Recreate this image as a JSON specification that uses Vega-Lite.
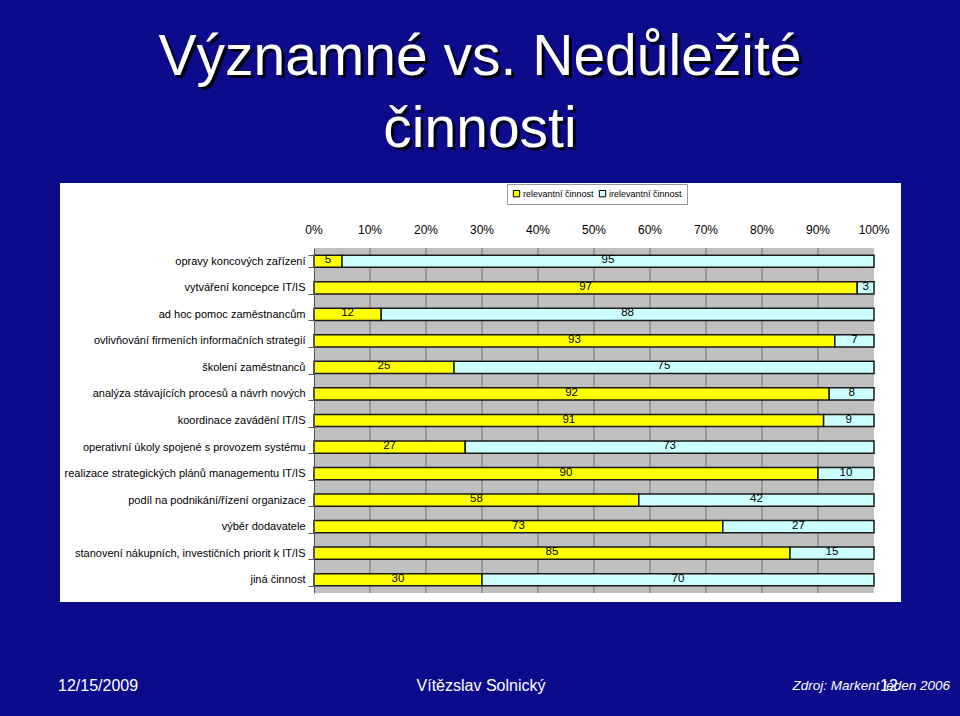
{
  "$schema": "https://vega.github.io/schema/vega-lite/v6.json",
  "width": 560,
  "height": 345,
  "autosize": {"type": "none"},
  "padding": {"left": 314, "top": 248, "right": 86, "bottom": 123},
  "background": "#0b0b8c",
  "config": {"view": {"stroke": null}, "font": "Liberation Sans"},
  "data": {"values": [
    {"kategorie": "opravy koncových zařízení", "relevantní činnost": 5, "irelevantní činnost": 95},
    {"kategorie": "vytváření koncepce IT/IS", "relevantní činnost": 97, "irelevantní činnost": 3},
    {"kategorie": "ad hoc pomoc zaměstnancům", "relevantní činnost": 12, "irelevantní činnost": 88},
    {"kategorie": "ovlivňování firmeních informačních strategií", "relevantní činnost": 93, "irelevantní činnost": 7},
    {"kategorie": "školení zaměstnanců", "relevantní činnost": 25, "irelevantní činnost": 75},
    {"kategorie": "analýza stávajících procesů a návrh nových", "relevantní činnost": 92, "irelevantní činnost": 8},
    {"kategorie": "koordinace zavádění IT/IS", "relevantní činnost": 91, "irelevantní činnost": 9},
    {"kategorie": "operativní úkoly spojené s provozem systému", "relevantní činnost": 27, "irelevantní činnost": 73},
    {"kategorie": "realizace strategických plánů managementu IT/IS", "relevantní činnost": 90, "irelevantní činnost": 10},
    {"kategorie": "podíl na podnikání/řízení organizace", "relevantní činnost": 58, "irelevantní činnost": 42},
    {"kategorie": "výběr dodavatele", "relevantní činnost": 73, "irelevantní činnost": 27},
    {"kategorie": "stanovení nákupních, investičních priorit k IT/IS", "relevantní činnost": 85, "irelevantní činnost": 15},
    {"kategorie": "jiná činnost", "relevantní činnost": 30, "irelevantní činnost": 70}
  ]},
  "resolve": {"scale": {"y": "independent"}},
  "layer": [
    {
      "data": {"values": [{}]},
      "mark": {"type": "rect", "fill": "#ffffff"},
      "encoding": {
        "x": {"datum": -45.36, "type": "quantitative", "scale": {"domain": [0, 100], "nice": false, "zero": false}, "axis": null},
        "x2": {"datum": 104.82},
        "y": {"datum": -0.0261, "type": "quantitative", "scale": {"domain": [0, 1], "nice": false, "zero": false}, "axis": null},
        "y2": {"datum": 1.1884}
      }
    },
    {
      "data": {"values": [{}]},
      "mark": {"type": "rect", "fill": "#c0c0c0"},
      "encoding": {
        "x": {"datum": 0, "type": "quantitative", "scale": {"domain": [0, 100], "nice": false, "zero": false}, "axis": null},
        "x2": {"datum": 100},
        "y": {"datum": 0, "type": "quantitative", "scale": {"domain": [0, 1], "nice": false, "zero": false}, "axis": null},
        "y2": {"datum": 1}
      }
    },
    {
      "data": {"values": [{"t": 10}, {"t": 20}, {"t": 30}, {"t": 40}, {"t": 50}, {"t": 60}, {"t": 70}, {"t": 80}, {"t": 90}]},
      "mark": {"type": "rule", "stroke": "#6e6e6e", "strokeWidth": 1},
      "encoding": {
        "x": {"field": "t", "type": "quantitative", "scale": {"domain": [0, 100], "nice": false, "zero": false}, "axis": null},
        "y": {"datum": 0, "type": "quantitative", "scale": {"domain": [0, 1], "nice": false, "zero": false}, "axis": null},
        "y2": {"datum": 1}
      }
    },
    {
      "data": {"values": [
        {"t": 0, "popisek": "0%"}, {"t": 10, "popisek": "10%"}, {"t": 20, "popisek": "20%"}, {"t": 30, "popisek": "30%"},
        {"t": 40, "popisek": "40%"}, {"t": 50, "popisek": "50%"}, {"t": 60, "popisek": "60%"}, {"t": 70, "popisek": "70%"},
        {"t": 80, "popisek": "80%"}, {"t": 90, "popisek": "90%"}, {"t": 100, "popisek": "100%"}
      ]},
      "mark": {"type": "text", "font": "Liberation Sans", "fontSize": 12, "color": "#000000", "align": "center", "baseline": "middle"},
      "encoding": {
        "x": {"field": "t", "type": "quantitative", "scale": {"domain": [0, 100], "nice": false, "zero": false}, "axis": null},
        "y": {"datum": 1.0522, "type": "quantitative", "scale": {"domain": [0, 1], "nice": false, "zero": false}, "axis": null},
        "text": {"field": "popisek", "type": "nominal"}
      }
    },
    {
      "transform": [
        {"fold": ["relevantní činnost", "irelevantní činnost"], "as": ["key", "value"]},
        {"stack": "value", "groupby": ["kategorie"], "sort": [{"field": "key", "order": "descending"}], "as": ["v0", "v1"]},
        {"calculate": "(datum.v0 + datum.v1) / 2", "as": "mid"}
      ],
      "encoding": {
        "y": {
          "field": "kategorie", "type": "nominal", "sort": null,
          "scale": {"paddingInner": 0.54, "paddingOuter": 0.27},
          "axis": {
            "title": null, "zindex": 1, "domainColor": "#555555", "tickColor": "#555555",
            "tickBand": "extent", "tickSize": 6, "labelPadding": 3,
            "labelFont": "Liberation Sans", "labelFontSize": 11,
            "labelColor": "#000000", "labelLimit": 320
          }
        }
      },
      "layer": [
        {
          "mark": {"type": "bar", "stroke": "#1a1a1a", "strokeWidth": 1.5},
          "encoding": {
            "x": {
              "field": "v0", "type": "quantitative",
              "scale": {"domain": [0, 100], "nice": false, "zero": false},
              "axis": null
            },
            "x2": {"field": "v1"},
            "color": {
              "field": "key", "type": "nominal",
              "scale": {"domain": ["relevantní činnost", "irelevantní činnost"], "range": ["#ffff00", "#ccffff"]},
              "legend": {
                "orient": "none", "legendX": 193, "legendY": -64, "direction": "horizontal",
                "title": null, "fillColor": "#ffffff", "strokeColor": "#999999", "padding": 5,
                "symbolType": "square", "symbolSize": 40, "symbolStrokeColor": "#000000", "symbolStrokeWidth": 1,
                "labelFont": "Liberation Sans", "labelFontSize": 9, "labelColor": "#000000",
                "columnPadding": 3, "labelOffset": 2
              }
            }
          }
        },
        {
          "mark": {"type": "text", "font": "Liberation Sans", "fontSize": 11.5, "color": "#000000", "baseline": "middle", "dy": -1},
          "encoding": {
            "x": {"field": "mid", "type": "quantitative", "scale": {"domain": [0, 100], "nice": false, "zero": false}, "axis": null},
            "text": {"field": "value", "type": "quantitative"}
          }
        }
      ]
    },
    {
      "data": {"values": [{}]},
      "mark": {"type": "text", "text": ["Významné vs. Nedůležité", "činnosti"], "font": "Liberation Sans", "fontSize": 57, "lineHeight": 72, "align": "center", "baseline": "alphabetic", "color": "#000000", "opacity": 0.85, "dx": 3, "dy": 3},
      "encoding": {
        "x": {"datum": 29.64, "type": "quantitative", "scale": {"domain": [0, 100], "nice": false, "zero": false}, "axis": null},
        "y": {"datum": 1.5014, "type": "quantitative", "scale": {"domain": [0, 1], "nice": false, "zero": false}, "axis": null}
      }
    },
    {
      "data": {"values": [{}]},
      "mark": {"type": "text", "text": ["Významné vs. Nedůležité", "činnosti"], "font": "Liberation Sans", "fontSize": 57, "lineHeight": 72, "align": "center", "baseline": "alphabetic", "color": "#ffffff"},
      "encoding": {
        "x": {"datum": 29.64, "type": "quantitative", "scale": {"domain": [0, 100], "nice": false, "zero": false}, "axis": null},
        "y": {"datum": 1.5014, "type": "quantitative", "scale": {"domain": [0, 1], "nice": false, "zero": false}, "axis": null}
      }
    },
    {
      "data": {"values": [{}]},
      "mark": {"type": "text", "text": "12/15/2009", "font": "Liberation Sans", "fontSize": 16, "align": "left", "baseline": "middle", "color": "#ffffff"},
      "encoding": {
        "x": {"datum": -45.71, "type": "quantitative", "scale": {"domain": [0, 100], "nice": false, "zero": false}, "axis": null},
        "y": {"datum": -0.2696, "type": "quantitative", "scale": {"domain": [0, 1], "nice": false, "zero": false}, "axis": null}
      }
    },
    {
      "data": {"values": [{}]},
      "mark": {"type": "text", "text": "Vítězslav Solnický", "font": "Liberation Sans", "fontSize": 16, "align": "center", "baseline": "middle", "color": "#ffffff"},
      "encoding": {
        "x": {"datum": 29.82, "type": "quantitative", "scale": {"domain": [0, 100], "nice": false, "zero": false}, "axis": null},
        "y": {"datum": -0.2696, "type": "quantitative", "scale": {"domain": [0, 1], "nice": false, "zero": false}, "axis": null}
      }
    },
    {
      "data": {"values": [{}]},
      "mark": {"type": "text", "text": "Zdroj: Markent leden 2006", "font": "Liberation Sans", "fontStyle": "italic", "fontSize": 13.5, "align": "right", "baseline": "middle", "color": "#ffffff"},
      "encoding": {
        "x": {"datum": 113.57, "type": "quantitative", "scale": {"domain": [0, 100], "nice": false, "zero": false}, "axis": null},
        "y": {"datum": -0.2696, "type": "quantitative", "scale": {"domain": [0, 1], "nice": false, "zero": false}, "axis": null}
      }
    },
    {
      "data": {"values": [{}]},
      "mark": {"type": "text", "text": "12", "font": "Liberation Sans", "fontSize": 16, "align": "center", "baseline": "middle", "color": "#ffffff"},
      "encoding": {
        "x": {"datum": 102.68, "type": "quantitative", "scale": {"domain": [0, 100], "nice": false, "zero": false}, "axis": null},
        "y": {"datum": -0.2696, "type": "quantitative", "scale": {"domain": [0, 1], "nice": false, "zero": false}, "axis": null}
      }
    }
  ]
}
